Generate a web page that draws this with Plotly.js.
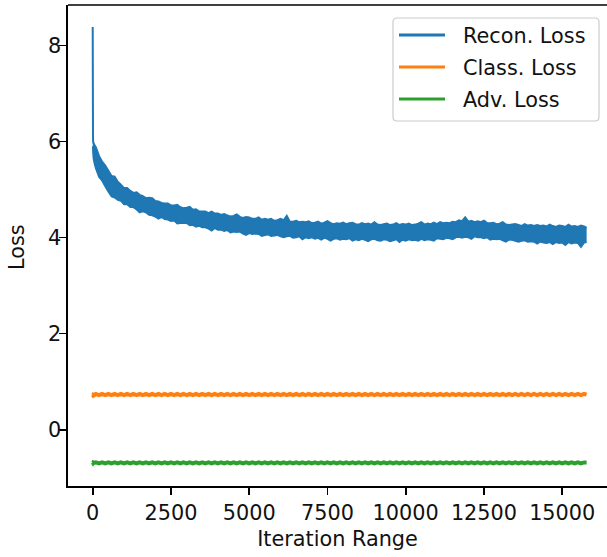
<!DOCTYPE html>
<html>
<head>
<meta charset="utf-8">
<script src="https://cdn.plot.ly/plotly-3.0.1.min.js"></script>
<style>
html,body{margin:0;padding:0;background:#fff;}
#chart{width:607px;height:557px;}
</style>
</head>
<body>
<div id="chart"></div>
<script>
// Iteration numbers at which the losses were logged
const iterations = [0,10,20,50,
100,200,300,400,500,600,700,800,900,1000,1100,1200,1300,1400,1500,1600,1700,1800,1900,2000,
2100,2200,2300,2400,2500,2600,2700,2800,2900,3000,3100,3200,3300,3400,3500,3600,3700,3800,3900,4000,
4100,4200,4300,4400,4500,4600,4700,4800,4900,5000,5100,5200,5300,5400,5500,5600,5700,5800,5900,6000,
6100,6200,6300,6400,6500,6600,6700,6800,6900,7000,7100,7200,7300,7400,7500,7600,7700,7800,7900,8000,
8100,8200,8300,8400,8500,8600,8700,8800,8900,9000,9100,9200,9300,9400,9500,9600,9700,9800,9900,10000,
10100,10200,10300,10400,10500,10600,10700,10800,10900,11000,11100,11200,11300,11400,11500,11600,11700,11800,11900,12000,
12100,12200,12300,12400,12500,12600,12700,12800,12900,13000,13100,13200,13300,13400,13500,13600,13700,13800,13900,14000,
14100,14200,14300,14400,14500,14600,14700,14800,14900,15000,15100,15200,15300,15400,15500,15600,15700,15780];

// Reconstruction loss: upper and lower edge of the noisy band
const reconUpper = [8.38,6.05,5.98,5.93,
5.88,5.70,5.58,5.50,5.39,5.28,5.27,5.16,5.10,5.03,5.03,4.97,4.93,4.94,4.89,4.86,4.82,4.83,4.82,4.76,
4.75,4.72,4.71,4.71,4.67,4.67,4.68,4.63,4.61,4.62,4.64,4.58,4.59,4.54,4.54,4.54,4.51,4.54,4.50,4.50,
4.47,4.49,4.46,4.44,4.45,4.48,4.43,4.41,4.43,4.42,4.39,4.39,4.42,4.37,4.39,4.37,4.39,4.35,4.36,4.39,
4.36,4.45,4.33,4.33,4.35,4.32,4.33,4.32,4.34,4.30,4.31,4.33,4.29,4.31,4.34,4.30,4.28,4.30,4.29,4.31,
4.28,4.30,4.31,4.28,4.27,4.30,4.28,4.29,4.27,4.32,4.27,4.26,4.28,4.29,4.26,4.27,4.30,4.26,4.28,4.27,
4.29,4.26,4.27,4.29,4.32,4.27,4.29,4.28,4.31,4.28,4.32,4.30,4.31,4.30,4.33,4.32,4.36,4.34,4.42,4.33,
4.35,4.32,4.34,4.32,4.35,4.30,4.30,4.31,4.28,4.29,4.32,4.27,4.26,4.27,4.28,4.26,4.24,4.28,4.25,4.26,
4.24,4.26,4.24,4.25,4.23,4.27,4.24,4.22,4.25,4.24,4.22,4.27,4.23,4.24,4.22,4.25,4.23,4.20];

const reconLower = [5.90,5.75,5.66,5.55,
5.43,5.26,5.18,5.06,4.95,4.85,4.83,4.78,4.76,4.69,4.69,4.63,4.63,4.58,4.52,4.54,4.52,4.47,4.46,4.43,
4.39,4.42,4.38,4.37,4.34,4.35,4.29,4.30,4.30,4.30,4.25,4.26,4.22,4.24,4.21,4.21,4.18,4.14,4.19,4.16,
4.16,4.13,4.15,4.10,4.12,4.11,4.12,4.08,4.05,4.09,4.07,4.08,4.07,4.03,4.05,4.06,4.03,4.04,4.05,4.02,
4.00,4.02,4.03,3.99,4.00,4.02,3.96,4.00,3.98,4.00,3.97,3.99,3.95,3.99,3.97,3.93,3.97,3.98,3.95,3.97,
3.96,3.98,3.93,3.96,3.94,3.97,3.95,3.92,3.96,3.97,3.94,3.93,3.96,3.95,3.92,3.94,3.96,3.90,3.95,3.93,
3.96,3.94,3.95,3.93,3.97,3.94,3.96,3.95,3.93,3.98,3.97,3.96,3.99,3.98,3.96,4.00,4.01,3.99,4.01,4.00,
3.97,4.02,4.00,4.00,3.98,4.00,3.95,3.97,3.96,3.97,3.94,3.91,3.95,3.95,3.93,3.91,3.93,3.94,3.91,3.92,
3.91,3.87,3.91,3.89,3.88,3.90,3.86,3.90,3.88,3.89,3.84,3.90,3.87,3.89,3.88,3.80,3.89,3.90];

// Classification loss
const classLoss = [0.73,0.72,0.73,0.72,
0.745,0.72,0.745,0.72,0.745,0.72,0.745,0.72,0.745,0.72,0.745,0.72,0.745,0.72,0.745,0.72,0.745,0.72,0.745,0.72,
0.745,0.72,0.745,0.72,0.745,0.72,0.745,0.72,0.745,0.72,0.745,0.72,0.745,0.72,0.745,0.72,0.745,0.72,0.745,0.72,
0.745,0.72,0.745,0.72,0.745,0.72,0.745,0.72,0.745,0.72,0.745,0.72,0.745,0.72,0.745,0.72,0.745,0.72,0.745,0.72,
0.745,0.72,0.745,0.72,0.745,0.72,0.745,0.72,0.745,0.72,0.745,0.72,0.745,0.72,0.745,0.72,0.745,0.72,0.745,0.72,
0.745,0.72,0.745,0.72,0.745,0.72,0.745,0.72,0.745,0.72,0.745,0.72,0.745,0.72,0.745,0.72,0.745,0.72,0.745,0.72,
0.745,0.72,0.745,0.72,0.745,0.72,0.745,0.72,0.745,0.72,0.745,0.72,0.745,0.72,0.745,0.72,0.745,0.72,0.745,0.72,
0.745,0.72,0.745,0.72,0.745,0.72,0.745,0.72,0.745,0.72,0.745,0.72,0.745,0.72,0.745,0.72,0.745,0.72,0.745,0.72,
0.745,0.72,0.745,0.72,0.745,0.72,0.745,0.72,0.745,0.72,0.745,0.72,0.745,0.72,0.745,0.72,0.745,0.73];

// Adversarial loss
const advLoss = [-0.68,-0.69,-0.68,-0.69,
-0.68,-0.70,-0.68,-0.70,-0.68,-0.70,-0.68,-0.70,-0.68,-0.70,-0.68,-0.70,-0.68,-0.70,-0.68,-0.70,-0.68,-0.70,-0.68,-0.70,
-0.68,-0.70,-0.68,-0.70,-0.68,-0.70,-0.68,-0.70,-0.68,-0.70,-0.68,-0.70,-0.68,-0.70,-0.68,-0.70,-0.68,-0.70,-0.68,-0.70,
-0.68,-0.70,-0.68,-0.70,-0.68,-0.70,-0.68,-0.70,-0.68,-0.70,-0.68,-0.70,-0.68,-0.70,-0.68,-0.70,-0.68,-0.70,-0.68,-0.70,
-0.68,-0.70,-0.68,-0.70,-0.68,-0.70,-0.68,-0.70,-0.68,-0.70,-0.68,-0.70,-0.68,-0.70,-0.68,-0.70,-0.68,-0.70,-0.68,-0.70,
-0.68,-0.70,-0.68,-0.70,-0.68,-0.70,-0.68,-0.70,-0.68,-0.70,-0.68,-0.70,-0.68,-0.70,-0.68,-0.70,-0.68,-0.70,-0.68,-0.70,
-0.68,-0.70,-0.68,-0.70,-0.68,-0.70,-0.68,-0.70,-0.68,-0.70,-0.68,-0.70,-0.68,-0.70,-0.68,-0.70,-0.68,-0.70,-0.68,-0.70,
-0.68,-0.70,-0.68,-0.70,-0.68,-0.70,-0.68,-0.70,-0.68,-0.70,-0.68,-0.70,-0.68,-0.70,-0.68,-0.70,-0.68,-0.70,-0.68,-0.70,
-0.68,-0.70,-0.68,-0.70,-0.68,-0.70,-0.68,-0.70,-0.68,-0.70,-0.68,-0.70,-0.68,-0.70,-0.68,-0.70,-0.68,-0.68];

const seriesNames = ["Recon. Loss", "Class. Loss", "Adv. Loss"];
const xTickVals = [0,2500,5000,7500,10000,12500,15000];
const yTickVals = [0,2,4,6,8];
const xTitle = "Iteration Range";
const yTitle = "Loss";

const FONT = "DejaVu Sans, sans-serif";
const TEXT = "#111111";
const colors = ["#1f77b4", "#ff7f0e", "#2ca02c"];

const traces = [
  {type: "scatter", mode: "lines", x: iterations, y: reconLower, name: seriesNames[0],
   showlegend: false, line: {color: colors[0], width: 1.5, simplify: false}, hoverinfo: "skip"},
  {type: "scatter", mode: "lines", x: iterations, y: reconUpper, name: seriesNames[0],
   showlegend: false, fill: "tonexty", fillcolor: colors[0],
   line: {color: colors[0], width: 2, simplify: false}, hoverinfo: "skip"},
  {type: "scatter", mode: "lines", x: iterations, y: classLoss, name: seriesNames[1],
   showlegend: false, line: {color: colors[1], width: 4, simplify: false}, hoverinfo: "skip"},
  {type: "scatter", mode: "lines", x: iterations, y: advLoss, name: seriesNames[2],
   showlegend: false, line: {color: colors[2], width: 4, simplify: false}, hoverinfo: "skip"}
];

// Plot area in pixels: x 68..607, y 5..486
const PL = 68, PR = 607, PT = 5, PB = 486;
const px2x = p => (p - PL) / (PR - PL);
const px2y = p => (PB - p) / (PB - PT);

// Legend box drawn in matplotlib style (rounded frame)
const bx0 = 393, bx1 = 599, by0 = 18, by1 = 121, rad = 4;
const legendPath =
  "M " + px2x(bx0 + rad) + "," + px2y(by0) +
  " L " + px2x(bx1 - rad) + "," + px2y(by0) +
  " Q " + px2x(bx1) + "," + px2y(by0) + " " + px2x(bx1) + "," + px2y(by0 + rad) +
  " L " + px2x(bx1) + "," + px2y(by1 - rad) +
  " Q " + px2x(bx1) + "," + px2y(by1) + " " + px2x(bx1 - rad) + "," + px2y(by1) +
  " L " + px2x(bx0 + rad) + "," + px2y(by1) +
  " Q " + px2x(bx0) + "," + px2y(by1) + " " + px2x(bx0) + "," + px2y(by1 - rad) +
  " L " + px2x(bx0) + "," + px2y(by0 + rad) +
  " Q " + px2x(bx0) + "," + px2y(by0) + " " + px2x(bx0 + rad) + "," + px2y(by0) + " Z";

const rowY = [35, 67, 99];
const shapes = [
  {type: "line", xref: "paper", yref: "paper", x0: 0, x1: 1, y0: 1, y1: 1,
   line: {color: "#000", width: 1.6}},
  {type: "path", xref: "paper", yref: "paper", path: legendPath,
   fillcolor: "rgba(255,255,255,0.85)", line: {color: "#cccccc", width: 1.2}, layer: "above"}
];
const annotations = [];
seriesNames.forEach((nm, i) => {
  shapes.push({type: "line", xref: "paper", yref: "paper",
    x0: px2x(399), x1: px2x(445), y0: px2y(rowY[i]), y1: px2y(rowY[i]),
    line: {color: colors[i], width: 3}, layer: "above"});
  annotations.push({xref: "paper", yref: "paper", x: px2x(461), y: px2y(rowY[i] + 1),
    xanchor: "left", yanchor: "middle", showarrow: false, text: nm,
    font: {family: FONT, size: 20.8, color: TEXT}});
});
// y-axis title placed like matplotlib's
annotations.push({xref: "paper", yref: "paper", x: px2x(17), y: px2y(247),
  xanchor: "center", yanchor: "middle", textangle: -90, showarrow: false, text: yTitle,
  font: {family: FONT, size: 20.8, color: TEXT}});

const layout = {
  width: 607, height: 557,
  margin: {l: 68, r: 0, t: 5, b: 71, pad: 0},
  paper_bgcolor: "#ffffff",
  plot_bgcolor: "#ffffff",
  font: {family: FONT, size: 20.8, color: TEXT},
  showlegend: false,
  xaxis: {
    range: [-789, 16431],
    tickvals: xTickVals,
    ticktext: xTickVals.map(String),
    ticks: "outside", ticklen: 7, tickwidth: 1.6, tickcolor: "#000",
    showline: true, linecolor: "#000", linewidth: 1.6,
    showgrid: false, zeroline: false,
    tickfont: {family: FONT, size: 20.8, color: TEXT},
    title: {text: xTitle, font: {family: FONT, size: 20.8, color: TEXT}, standoff: 8}
  },
  yaxis: {
    range: [-1.17, 8.84],
    tickvals: yTickVals,
    ticktext: yTickVals.map(String),
    ticks: "outside", ticklen: 7, tickwidth: 1.6, tickcolor: "#000",
    ticklabelstandoff: -6,
    showline: true, linecolor: "#000", linewidth: 1.6,
    showgrid: false, zeroline: false,
    tickfont: {family: FONT, size: 20.8, color: TEXT}
  },
  shapes: shapes,
  annotations: annotations
};

Plotly.newPlot("chart", traces, layout, {displayModeBar: false, staticPlot: true});
</script>
</body>
</html>
